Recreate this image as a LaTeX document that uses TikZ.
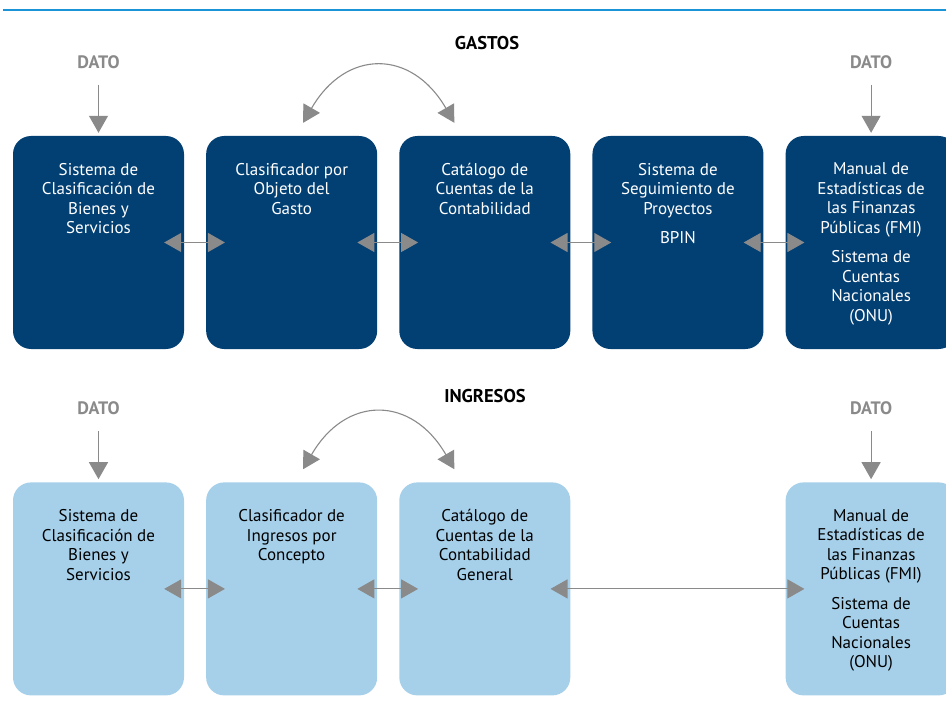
\documentclass[tikz,border=0pt]{standalone}
\usepackage{fontspec}
\setmainfont{PT Sans}
\usetikzlibrary{positioning, arrows.meta}
\definecolor{gastoblue}{HTML}{023F73}
\definecolor{ingresoblue}{HTML}{A6D0EA}
\definecolor{linkgray}{HTML}{8A8A8A}
\definecolor{ruleblue}{HTML}{1A94D6}
\tikzset{
    box/.style={rounded corners=18pt, minimum width=171pt, minimum height=213pt, inner sep=0pt}, % common shape of every block
    gasto/.style={box, fill=gastoblue},
    ingreso/.style={box, fill=ingresoblue},
    boxtext/.style={anchor=north, align=center, inner sep=0pt, font=\fontsize{17}{19.5}\selectfont},
    title/.style={inner sep=0pt, font=\bfseries\fontsize{18.5}{20}\selectfont},
    dato/.style={inner sep=0pt, text=linkgray, font=\bfseries\fontsize{18}{20}\selectfont},
    link/.style={draw=linkgray, fill=linkgray, line width=1.1pt, {Triangle[length=17pt,width=19pt]}-{Triangle[length=17pt,width=19pt]}}, % two-way arrows between blocks
    feed/.style={draw=linkgray, fill=linkgray, line width=1.1pt, -{Triangle[length=17pt,width=19pt]}},
    node distance=21.75pt,
}
\begin{document}
\begin{tikzpicture}[x=1pt, y=-1pt]
    \useasboundingbox (0,0) rectangle (946,706);
    \draw[ruleblue, line width=1.6pt] (3,10) -- (946,10);
    % gastos
    \node[title] (gastos) at (487,43) {GASTOS};
    \node[gasto] (g1) at (98.5,242.5) {};
    \node[gasto, right=of g1] (g2) {};
    \node[gasto, right=of g2] (g3) {};
    \node[gasto, right=of g3] (g4) {};
    \node[gasto, right=of g4] (g5) {};
    \node[boxtext, white] (tg1) at ([yshift=-27pt]g1.north) {Sistema de\\Clasificación de\\Bienes y\\Servicios};
    \node[boxtext, white] (tg2) at ([yshift=-27pt]g2.north) {Clasificador por\\Objeto del\\Gasto};
    \node[boxtext, white] (tg3) at ([yshift=-27pt]g3.north) {Catálogo de\\Cuentas de la\\Contabilidad};
    \node[boxtext, white] (tg4) at ([yshift=-27pt]g4.north) {Sistema de\\Seguimiento de\\Proyectos\\[10pt]BPIN};
    \node[boxtext, white] (tg5) at ([yshift=-27pt]g5.north) {Manual de\\Estadísticas de\\las Finanzas\\Públicas (FMI)\\[10pt]Sistema de\\Cuentas\\Nacionales\\(ONU)};
    \node[dato, above=67pt of g1] (dg1) {DATO};
    \node[dato, above=67pt of g5] (dg5) {DATO};
    % ingresos
    \node[title] (ingresos) at (485,396) {INGRESOS};
    \node[ingreso, below=133pt of g1] (i1) {};
    \node[ingreso, right=of i1] (i2) {};
    \node[ingreso, right=of i2] (i3) {};
    \node[ingreso, below=133pt of g5] (i5) {};
    \node[boxtext] (ti1) at ([yshift=-27pt]i1.north) {Sistema de\\Clasificación de\\Bienes y\\Servicios};
    \node[boxtext] (ti2) at ([yshift=-27pt]i2.north) {Clasificador de\\Ingresos por\\Concepto};
    \node[boxtext] (ti3) at ([yshift=-27pt]i3.north) {Catálogo de\\Cuentas de la\\Contabilidad\\General};
    \node[boxtext] (ti5) at ([yshift=-27pt]i5.north) {Manual de\\Estadísticas de\\las Finanzas\\Públicas (FMI)\\[10pt]Sistema de\\Cuentas\\Nacionales\\(ONU)};
    \node[dato, above=67pt of i1] (di1) {DATO};
    \node[dato, above=67pt of i5] (di5) {DATO};
    % arrows
    \draw[link] ([xshift=-20pt]g1.east) -- ([xshift=19pt]g2.west);
    \draw[link] ([xshift=-20pt]g2.east) -- ([xshift=19pt]g3.west);
    \draw[link] ([xshift=-20pt]g3.east) -- ([xshift=19pt]g4.west);
    \draw[link] ([xshift=-20pt]g4.east) -- ([xshift=19pt]g5.west);
    \draw[link] ([xshift=-20pt]i1.east) -- ([xshift=19pt]i2.west);
    \draw[link] ([xshift=-20pt]i2.east) -- ([xshift=19pt]i3.west);
    \draw[link] ([xshift=-20pt]i3.east) -- ([xshift=19pt]i5.west);
    \draw[link, fill=none] ([xshift=11.5pt,yshift=13pt]g2.north) to[out=60, in=120, looseness=1.45] ([xshift=-30.5pt,yshift=13pt]g3.north);
    \draw[link, fill=none] ([xshift=11.5pt,yshift=13pt]i2.north) to[out=60, in=120, looseness=1.45] ([xshift=-30.5pt,yshift=13pt]i3.north);
    \draw[feed] ([yshift=-16pt]dg1.south) -- ([yshift=3pt]g1.north);
    \draw[feed] ([yshift=-16pt]dg5.south) -- ([yshift=3pt]g5.north);
    \draw[feed] ([yshift=-16pt]di1.south) -- ([yshift=3pt]i1.north);
    \draw[feed] ([yshift=-16pt]di5.south) -- ([yshift=3pt]i5.north);
\end{tikzpicture}
\end{document}
